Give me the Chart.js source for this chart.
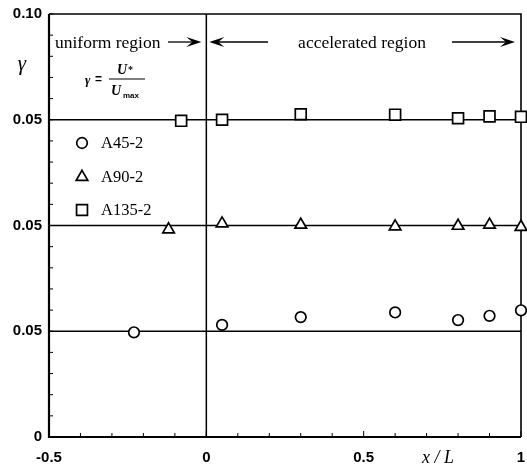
<!DOCTYPE html>
<html>
<head>
<meta charset="utf-8">
<script src="https://cdn.jsdelivr.net/npm/chart.js@4.4.1/dist/chart.umd.min.js"></script>
<style>
  html, body { margin: 0; padding: 0; background: #fff; }
</style>
</head>
<body>
<canvas id="myChart" width="527" height="468"></canvas>
<script>
// series (gamma values, each series shifted up by its band offset)
const seriesNames = ["A45-2", "A90-2", "A135-2"];
const seriesShapes = ["circle", "triangle", "rect"];
const bandOffsets = [0, 0.05, 0.10];

const xA45 = [-0.23, 0.05, 0.3, 0.6, 0.8, 0.9, 1.0];
const gammaA45 = [0.0495, 0.0530, 0.0567, 0.0589, 0.0553, 0.0573, 0.0599];

const xA90 = [-0.12, 0.05, 0.3, 0.6, 0.8, 0.9, 1.0];
const gammaA90 = [0.0481, 0.0509, 0.0503, 0.0495, 0.0498, 0.0503, 0.0493];

const xA135 = [-0.08, 0.05, 0.3, 0.6, 0.8, 0.9, 1.0];
const gammaA135 = [0.0495, 0.0500, 0.0526, 0.0524, 0.0507, 0.0516, 0.0514];

const refGamma = 0.05;
const xRange = [-0.5, 1];

// tick labels
const yTickValues = [0, 0.05, 0.10, 0.15, 0.20];
const yTickLabels = ["0", "0.05", "0.05", "0.05", "0.10"];
const xTickValues = [-0.5, 0, 0.5, 1];
const xTickLabels = ["-0.5", "0", "0.5", "1"];

const serif = "'Liberation Serif', 'Times New Roman', serif";
const sans = "'Liberation Sans', Arial, sans-serif";

function labelFor(values, labels, v) {
  for (let i = 0; i < values.length; i++) {
    if (Math.abs(values[i] - v) < 1e-9) return labels[i];
  }
  return "";
}

const xs = [xA45, xA90, xA135];
const gs = [gammaA45, gammaA90, gammaA135];
const radii = [5.3, 6.7, 7.7];

const pointSets = seriesNames.map((name, k) => ({
  label: name,
  data: xs[k].map((x, i) => ({ x: x, y: gs[k][i] + bandOffsets[k] })),
  pointStyle: seriesShapes[k],
  pointRadius: radii[k],
  pointBorderWidth: 1.7,
  borderColor: "#000",
  backgroundColor: "#fff",
  showLine: false,
  clip: false,
}));

const refLines = bandOffsets.map((off) => ({
  type: "line",
  data: xRange.map((x) => ({ x: x, y: refGamma + off })),
  borderColor: "#000",
  borderWidth: 1.5,
  pointRadius: 0,
  showLine: true,
}));

// x = 0 boundary between the two regions
const boundary = {
  type: "line",
  data: [{ x: 0, y: 0 }, { x: 0, y: 0.20 }],
  borderColor: "#000",
  borderWidth: 1.5,
  pointRadius: 0,
  showLine: true,
};

function drawShape(ctx, shape, x, y, r) {
  ctx.beginPath();
  if (shape === "circle") {
    ctx.arc(x, y, r, 0, Math.PI * 2);
  } else if (shape === "triangle") {
    for (let i = 0; i < 3; i++) {
      const a = i * 2 * Math.PI / 3;
      const px = x + Math.sin(a) * r, py = y - Math.cos(a) * r;
      if (i === 0) ctx.moveTo(px, py); else ctx.lineTo(px, py);
    }
    ctx.closePath();
  } else {
    const s = Math.SQRT1_2 * r;
    ctx.rect(x - s, y - s, 2 * s, 2 * s);
  }
  ctx.fillStyle = "#fff";
  ctx.fill();
  ctx.lineWidth = 1.7;
  ctx.strokeStyle = "#000";
  ctx.stroke();
}

function arrow(ctx, x1, x2, y) {
  const dir = x2 > x1 ? 1 : -1;
  ctx.beginPath();
  ctx.moveTo(x1, y);
  ctx.lineTo(x2 - dir * 8, y);
  ctx.lineWidth = 1.3;
  ctx.stroke();
  ctx.beginPath();
  ctx.moveTo(x2, y);
  ctx.lineTo(x2 - dir * 15, y - 5);
  ctx.lineTo(x2 - dir * 9, y);
  ctx.lineTo(x2 - dir * 15, y + 5);
  ctx.closePath();
  ctx.fill();
}

const framePlugin = {
  id: "frame",
  beforeDatasetsDraw(chart) {
    const { ctx, chartArea: a, scales } = chart;
    ctx.save();
    ctx.strokeStyle = "#000";
    // minor ticks pointing inward
    ctx.lineWidth = 1;
    scales.y.ticks.forEach((t) => {
      const py = scales.y.getPixelForValue(t.value);
      ctx.beginPath();
      ctx.moveTo(a.left, py);
      ctx.lineTo(a.left + 4, py);
      ctx.stroke();
    });
    scales.x.ticks.forEach((t) => {
      const px = scales.x.getPixelForValue(t.value);
      const len = labelFor(xTickValues, xTickLabels, t.value) ? 6 : 4;
      ctx.beginPath();
      ctx.moveTo(px, a.bottom);
      ctx.lineTo(px, a.bottom - len);
      ctx.stroke();
    });
    // frame
    ctx.lineWidth = 2.2;
    ctx.beginPath();
    ctx.moveTo(a.left, a.top);
    ctx.lineTo(a.left, a.bottom);
    ctx.lineTo(a.right, a.bottom);
    ctx.stroke();
    ctx.lineWidth = 1.6;
    ctx.beginPath();
    ctx.moveTo(a.left, a.top);
    ctx.lineTo(a.right, a.top);
    ctx.lineTo(a.right, a.bottom);
    ctx.stroke();
    ctx.restore();
  },
  afterDraw(chart) {
    const { ctx, chartArea: a, scales } = chart;
    const x = scales.x;
    ctx.save();
    ctx.fillStyle = "#000";
    ctx.strokeStyle = "#000";
    ctx.textBaseline = "middle";

    // region labels and arrows
    ctx.font = "17.5px " + serif;
    ctx.textAlign = "left";
    ctx.fillText("uniform region", 55, 43);
    arrow(ctx, 168, x.getPixelForValue(0) - 5, 42);
    arrow(ctx, 268, x.getPixelForValue(0) + 3, 42);
    ctx.textAlign = "center";
    ctx.fillText("accelerated region", 362, 43);
    arrow(ctx, 452, a.right - 6, 42);

    // axis symbols
    ctx.font = "italic 21px " + serif;
    ctx.textAlign = "center";
    ctx.fillText("\u03B3", 22, 64);
    ctx.font = "italic 18px " + serif;
    ctx.fillText("x / L", 438, 458);

    // definition of gamma
    ctx.font = "italic bold 13px " + serif;
    ctx.textAlign = "left";
    ctx.fillText("\u03B3", 85, 81);
    ctx.font = "bold 12px " + sans;
    ctx.fillText("=", 95, 80);
    ctx.lineWidth = 1.2;
    ctx.beginPath();
    ctx.moveTo(109, 79);
    ctx.lineTo(145, 79);
    ctx.stroke();
    ctx.font = "italic bold 14px " + serif;
    ctx.fillText("U", 117, 70);
    ctx.font = "bold 10px " + serif;
    ctx.fillText("*", 128, 70);
    ctx.font = "italic bold 14px " + serif;
    ctx.fillText("U", 111, 91);
    ctx.font = "bold 8px " + sans;
    ctx.fillText("max", 123, 96);

    // legend
    const legendY = [143, 177, 210];
    ctx.font = "16.5px " + serif;
    seriesNames.forEach((name, k) => {
      drawShape(ctx, seriesShapes[k], 82, legendY[k], radii[k]);
      ctx.fillStyle = "#000";
      ctx.textAlign = "left";
      ctx.fillText(name, 101, legendY[k] + 1);
    });
    ctx.restore();
  },
};

const ctx = document.getElementById("myChart");
const myChart = new Chart(ctx, {
  type: "scatter",
  data: { datasets: [...pointSets, ...refLines, boundary] },
  options: {
    responsive: false,
    animation: false,
    layout: { autoPadding: false, padding: { top: 14, right: 6, bottom: 0, left: 0 } },
    plugins: { legend: { display: false }, tooltip: { enabled: false } },
    scales: {
      x: {
        type: "linear",
        min: xRange[0],
        max: xRange[1],
        grid: { display: false, drawTicks: false },
        border: { display: false },
        afterFit: (s) => { s.height = 31; s.paddingLeft = 0; s.paddingRight = 0; },
        ticks: {
          stepSize: 0.1,
          autoSkip: false,
          maxRotation: 0,
          padding: 12,
          color: "#000",
          font: { family: sans, size: 15, weight: "bold" },
          callback: (v) => labelFor(xTickValues, xTickLabels, v),
        },
      },
      y: {
        type: "linear",
        min: 0,
        max: 0.20,
        grid: { display: false, drawTicks: false },
        border: { display: false },
        afterFit: (s) => { s.width = 49; s.paddingTop = 0; s.paddingBottom = 0; },
        ticks: {
          stepSize: 0.01,
          autoSkip: false,
          padding: 7,
          color: "#000",
          font: { family: sans, size: 15, weight: "bold" },
          callback: (v) => labelFor(yTickValues, yTickLabels, v),
        },
      },
    },
  },
  plugins: [framePlugin],
});
</script>
</body>
</html>
